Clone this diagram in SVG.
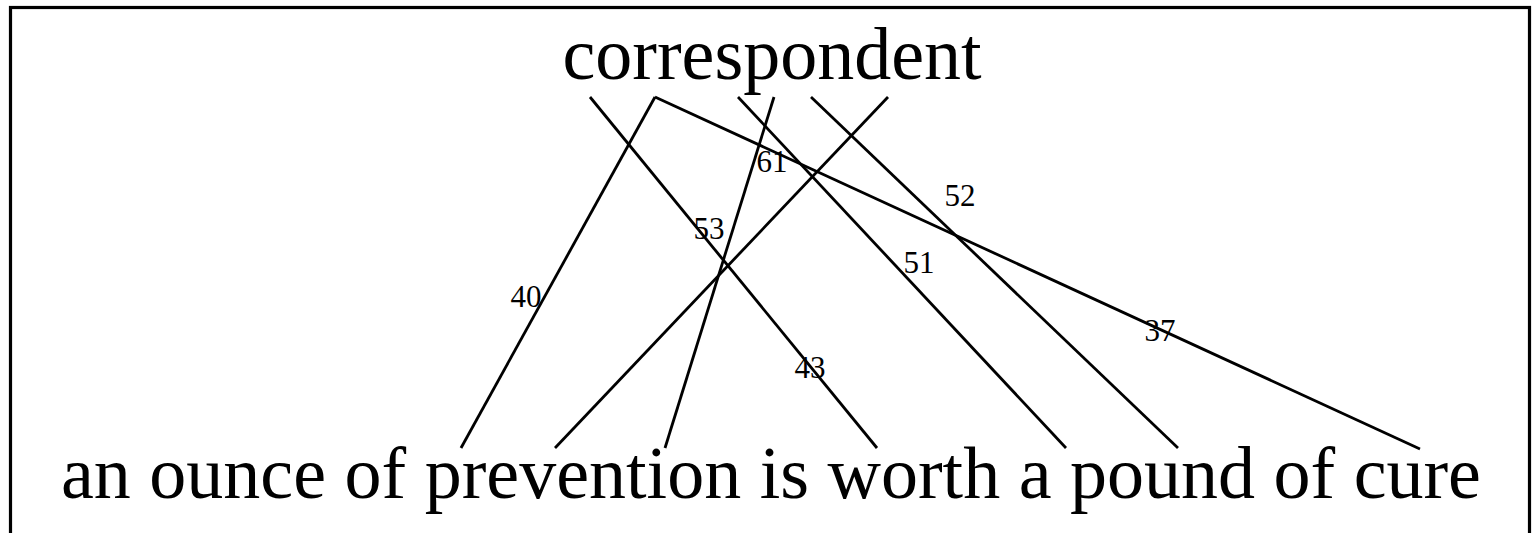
<svg xmlns="http://www.w3.org/2000/svg" width="1533" height="533" viewBox="0 0 1533 533">
  <style>
    .frame { fill: #ffffff; stroke: #000000; stroke-width: 3.2; }
    .word { font-family: "Liberation Serif", "Times New Roman", serif; fill: #000000; text-anchor: middle; }
    .big { font-size: 74px; }
    .edge { stroke: #000000; stroke-width: 2.8; fill: none; stroke-linecap: butt; }
    .lbl { font-family: "Liberation Serif", "Times New Roman", serif; font-size: 31px; fill: #000000; text-anchor: middle; }
  </style>
  <rect class="frame" x="10.5" y="7.5" width="1519" height="540"/>
  <g id="node-top">
    <text class="word big" x="772" y="79">correspondent</text>
  </g>
  <g id="node-bottom">
    <text class="word big" x="771" y="498" style="font-size:74px">an ounce of prevention is worth a pound of cure</text>
  </g>
  <g id="connectors">
    <line class="edge" x1="655" y1="97" x2="461" y2="448"/>
    <line class="edge" x1="655" y1="97" x2="1420" y2="449"/>
    <line class="edge" x1="590" y1="97" x2="877" y2="448"/>
    <line class="edge" x1="774" y1="97" x2="665" y2="448"/>
    <line class="edge" x1="888" y1="97" x2="555" y2="448"/>
    <line class="edge" x1="738" y1="97" x2="1066" y2="448"/>
    <line class="edge" x1="811" y1="97" x2="1178" y2="448"/>
    <text class="lbl" x="526" y="307">40</text>
    <text class="lbl" x="772" y="172">61</text>
    <text class="lbl" x="709" y="239">53</text>
    <text class="lbl" x="960" y="206">52</text>
    <text class="lbl" x="919" y="273">51</text>
    <text class="lbl" x="810" y="378">43</text>
    <text class="lbl" x="1160" y="341">37</text>
  </g>
</svg>
